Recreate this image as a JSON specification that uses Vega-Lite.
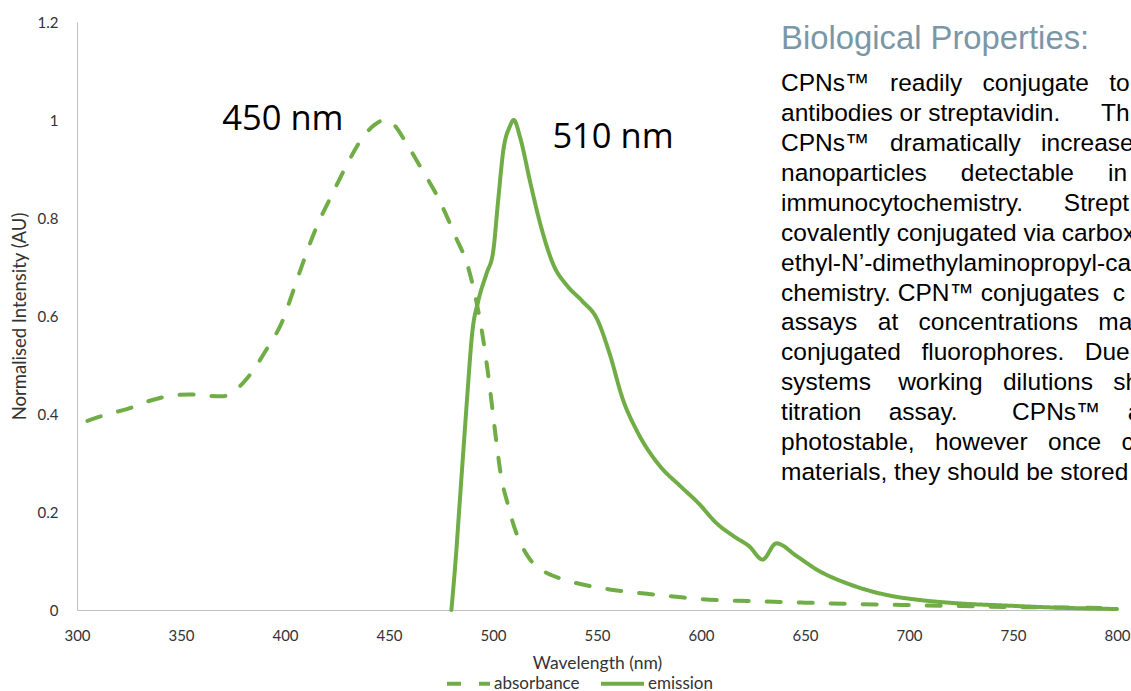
{
  "$schema": "https://vega.github.io/schema/vega-lite/v6.json",
  "autosize": {"type": "none"},
  "padding": {"left": 77, "top": 22, "right": 14, "bottom": 81},
  "width": 1040,
  "height": 588,
  "background": "white",
  "config": {
    "view": {"stroke": null},
    "axis": {"grid": false, "ticks": false, "tickSize": 0, "labelFlush": false, "domainColor": "#BFBFBF", "domainWidth": 1, "labelFont": "Lato", "labelFontSize": 15, "labelColor": "#333333", "titleFont": "Lato", "titleFontSize": 17.5, "titleFontWeight": "normal", "titleColor": "#333333"}
  },
  "datasets": {
    "spectra": [
      {"series": "absorbance", "wl": 305, "v": 0.386},
      {"series": "absorbance", "wl": 315, "v": 0.4},
      {"series": "absorbance", "wl": 324, "v": 0.41},
      {"series": "absorbance", "wl": 335, "v": 0.427},
      {"series": "absorbance", "wl": 345, "v": 0.437},
      {"series": "absorbance", "wl": 354, "v": 0.44},
      {"series": "absorbance", "wl": 363, "v": 0.437},
      {"series": "absorbance", "wl": 370, "v": 0.436},
      {"series": "absorbance", "wl": 375, "v": 0.445},
      {"series": "absorbance", "wl": 382, "v": 0.474},
      {"series": "absorbance", "wl": 391, "v": 0.531},
      {"series": "absorbance", "wl": 399, "v": 0.592},
      {"series": "absorbance", "wl": 404, "v": 0.652},
      {"series": "absorbance", "wl": 409, "v": 0.713},
      {"series": "absorbance", "wl": 415, "v": 0.78},
      {"series": "absorbance", "wl": 423, "v": 0.851},
      {"series": "absorbance", "wl": 430, "v": 0.911},
      {"series": "absorbance", "wl": 437, "v": 0.962},
      {"series": "absorbance", "wl": 443, "v": 0.99},
      {"series": "absorbance", "wl": 448, "v": 1.0},
      {"series": "absorbance", "wl": 452, "v": 0.992},
      {"series": "absorbance", "wl": 458, "v": 0.955},
      {"series": "absorbance", "wl": 465, "v": 0.905},
      {"series": "absorbance", "wl": 474, "v": 0.838},
      {"series": "absorbance", "wl": 482, "v": 0.762},
      {"series": "absorbance", "wl": 488, "v": 0.7},
      {"series": "absorbance", "wl": 492, "v": 0.63},
      {"series": "absorbance", "wl": 495, "v": 0.56},
      {"series": "absorbance", "wl": 498, "v": 0.47},
      {"series": "absorbance", "wl": 500, "v": 0.4},
      {"series": "absorbance", "wl": 502, "v": 0.33},
      {"series": "absorbance", "wl": 504, "v": 0.27},
      {"series": "absorbance", "wl": 507, "v": 0.218},
      {"series": "absorbance", "wl": 510, "v": 0.172},
      {"series": "absorbance", "wl": 514, "v": 0.13},
      {"series": "absorbance", "wl": 518, "v": 0.102},
      {"series": "absorbance", "wl": 524, "v": 0.08},
      {"series": "absorbance", "wl": 532, "v": 0.065},
      {"series": "absorbance", "wl": 540, "v": 0.055},
      {"series": "absorbance", "wl": 556, "v": 0.042},
      {"series": "absorbance", "wl": 574, "v": 0.033},
      {"series": "absorbance", "wl": 588, "v": 0.027},
      {"series": "absorbance", "wl": 600, "v": 0.022},
      {"series": "absorbance", "wl": 625, "v": 0.018},
      {"series": "absorbance", "wl": 650, "v": 0.015},
      {"series": "absorbance", "wl": 675, "v": 0.012},
      {"series": "absorbance", "wl": 700, "v": 0.01},
      {"series": "absorbance", "wl": 725, "v": 0.008},
      {"series": "absorbance", "wl": 750, "v": 0.006},
      {"series": "absorbance", "wl": 775, "v": 0.005},
      {"series": "absorbance", "wl": 800, "v": 0.004},
      {"series": "emission", "wl": 480, "v": 0.0},
      {"series": "emission", "wl": 482, "v": 0.1},
      {"series": "emission", "wl": 484, "v": 0.22},
      {"series": "emission", "wl": 486, "v": 0.34},
      {"series": "emission", "wl": 487.5, "v": 0.429},
      {"series": "emission", "wl": 490, "v": 0.565},
      {"series": "emission", "wl": 493, "v": 0.632},
      {"series": "emission", "wl": 497, "v": 0.688},
      {"series": "emission", "wl": 500, "v": 0.729},
      {"series": "emission", "wl": 502.5, "v": 0.837},
      {"series": "emission", "wl": 505, "v": 0.939},
      {"series": "emission", "wl": 508, "v": 0.986},
      {"series": "emission", "wl": 510, "v": 1.0},
      {"series": "emission", "wl": 513, "v": 0.965},
      {"series": "emission", "wl": 518, "v": 0.871},
      {"series": "emission", "wl": 522.6, "v": 0.79},
      {"series": "emission", "wl": 529, "v": 0.705},
      {"series": "emission", "wl": 535.6, "v": 0.662},
      {"series": "emission", "wl": 543, "v": 0.63},
      {"series": "emission", "wl": 550, "v": 0.594},
      {"series": "emission", "wl": 556, "v": 0.524},
      {"series": "emission", "wl": 562.5, "v": 0.429},
      {"series": "emission", "wl": 569, "v": 0.367},
      {"series": "emission", "wl": 580, "v": 0.295},
      {"series": "emission", "wl": 590, "v": 0.253},
      {"series": "emission", "wl": 599, "v": 0.217},
      {"series": "emission", "wl": 607, "v": 0.179},
      {"series": "emission", "wl": 616.6, "v": 0.148},
      {"series": "emission", "wl": 623.2, "v": 0.13},
      {"series": "emission", "wl": 629.6, "v": 0.103},
      {"series": "emission", "wl": 636.2, "v": 0.136},
      {"series": "emission", "wl": 646, "v": 0.11},
      {"series": "emission", "wl": 655.8, "v": 0.082},
      {"series": "emission", "wl": 670.4, "v": 0.054},
      {"series": "emission", "wl": 690, "v": 0.03},
      {"series": "emission", "wl": 706, "v": 0.02},
      {"series": "emission", "wl": 722, "v": 0.014},
      {"series": "emission", "wl": 747, "v": 0.009},
      {"series": "emission", "wl": 770, "v": 0.005},
      {"series": "emission", "wl": 800, "v": 0.002}
    ],
    "peaks": [
      {"wl": 399, "v": 1.001, "t": "450 nm"},
      {"wl": 557.7, "v": 0.964, "t": "510 nm"}
    ],
    "heading": [
      {"wl": 638.5, "v": 1.166, "t": "Biological Properties:"}
    ],
    "para": [
      {"wl": 638.5, "v": 1.0735, "t": "CPNs™\u00a0\u00a0\u00a0readily\u00a0\u00a0\u00a0conjugate\u00a0\u00a0\u00a0to"},
      {"wl": 638.5, "v": 1.0122, "t": "antibodies or streptavidin.\u00a0\u00a0\u00a0\u00a0\u00a0\u00a0Th"},
      {"wl": 638.5, "v": 0.951, "t": "CPNs™\u00a0\u00a0\u00a0dramatically\u00a0\u00a0\u00a0increase"},
      {"wl": 638.5, "v": 0.8898, "t": "nanoparticles\u00a0\u00a0\u00a0\u00a0\u00a0detectable\u00a0\u00a0\u00a0\u00a0\u00a0in"},
      {"wl": 638.5, "v": 0.8286, "t": "immunocytochemistry.\u00a0\u00a0\u00a0\u00a0\u00a0\u00a0Strept"},
      {"wl": 638.5, "v": 0.7673, "t": "covalently conjugated via carbox"},
      {"wl": 638.5, "v": 0.7061, "t": "ethyl-N’-dimethylaminopropyl-ca"},
      {"wl": 638.5, "v": 0.6449, "t": "chemistry. CPN™ conjugates\u00a0\u00a0c"},
      {"wl": 638.5, "v": 0.5847, "t": "assays\u00a0\u00a0\u00a0at\u00a0\u00a0\u00a0concentrations\u00a0\u00a0\u00a0ma"},
      {"wl": 638.5, "v": 0.5245, "t": "conjugated\u00a0\u00a0\u00a0fluorophores.\u00a0\u00a0\u00a0Due"},
      {"wl": 638.5, "v": 0.4633, "t": "systems\u00a0\u00a0\u00a0\u00a0working\u00a0\u00a0\u00a0dilutions\u00a0\u00a0\u00a0sh"},
      {"wl": 638.5, "v": 0.402, "t": "titration\u00a0\u00a0\u00a0\u00a0assay.\u00a0\u00a0\u00a0\u00a0\u00a0\u00a0\u00a0\u00a0CPNs™\u00a0\u00a0\u00a0\u00a0a"},
      {"wl": 638.5, "v": 0.3408, "t": "photostable,\u00a0\u00a0\u00a0however\u00a0\u00a0\u00a0once\u00a0\u00a0\u00a0c"},
      {"wl": 638.5, "v": 0.2796, "t": "materials, they should be stored"}
    ]
  },
  "layer": [
    {
      "data": {"name": "spectra"},
      "mark": {"type": "line", "strokeWidth": 4, "strokeCap": "round", "interpolate": "monotone", "color": "#70AD47"},
      "encoding": {
        "x": {"field": "wl", "type": "quantitative", "scale": {"domain": [300, 800], "nice": false, "zero": false},
          "axis": {"values": [300, 350, 400, 450, 500, 550, 600, 650, 700, 750, 800], "title": "Wavelength (nm)", "labelPadding": 18, "titlePadding": 11}},
        "y": {"field": "v", "type": "quantitative", "scale": {"domain": [0, 1.2], "nice": false},
          "axis": {"values": [0, 0.2, 0.4, 0.6, 0.8, 1, 1.2], "format": ".1~f", "title": "Normalised Intensity (AU)", "titleFontSize": 18.5, "labelPadding": 19, "titlePadding": 8}},
        "strokeDash": {"field": "series", "type": "nominal",
          "scale": {"domain": ["absorbance", "emission"], "range": [[14, 18], [1, 0]]},
          "legend": {"title": null, "orient": "none", "legendX": 368, "legendY": 638, "direction": "horizontal", "symbolType": "stroke", "symbolSize": 1849, "symbolStrokeWidth": 4, "symbolStrokeColor": "#70AD47", "labelFont": "Lato", "labelFontSize": 17, "labelColor": "#333333", "labelOffset": 2, "columnPadding": 13}}
      }
    },
    {
      "data": {"name": "peaks"},
      "mark": {"type": "text", "font": "Open Sans", "fontSize": 34.5, "color": "#000000", "align": "center", "baseline": "middle"},
      "encoding": {
        "x": {"field": "wl", "type": "quantitative"},
        "y": {"field": "v", "type": "quantitative"},
        "text": {"field": "t"}
      }
    },
    {
      "data": {"name": "heading"},
      "mark": {"type": "text", "font": "Liberation Sans", "fontSize": 32.8, "color": "#7A97A8", "align": "left", "baseline": "middle"},
      "encoding": {
        "x": {"field": "wl", "type": "quantitative"},
        "y": {"field": "v", "type": "quantitative"},
        "text": {"field": "t"}
      }
    },
    {
      "data": {"name": "para"},
      "mark": {"type": "text", "font": "Liberation Sans", "fontSize": 24.5, "color": "#000000", "align": "left", "baseline": "middle"},
      "encoding": {
        "x": {"field": "wl", "type": "quantitative"},
        "y": {"field": "v", "type": "quantitative"},
        "text": {"field": "t"}
      }
    }
  ]
}
